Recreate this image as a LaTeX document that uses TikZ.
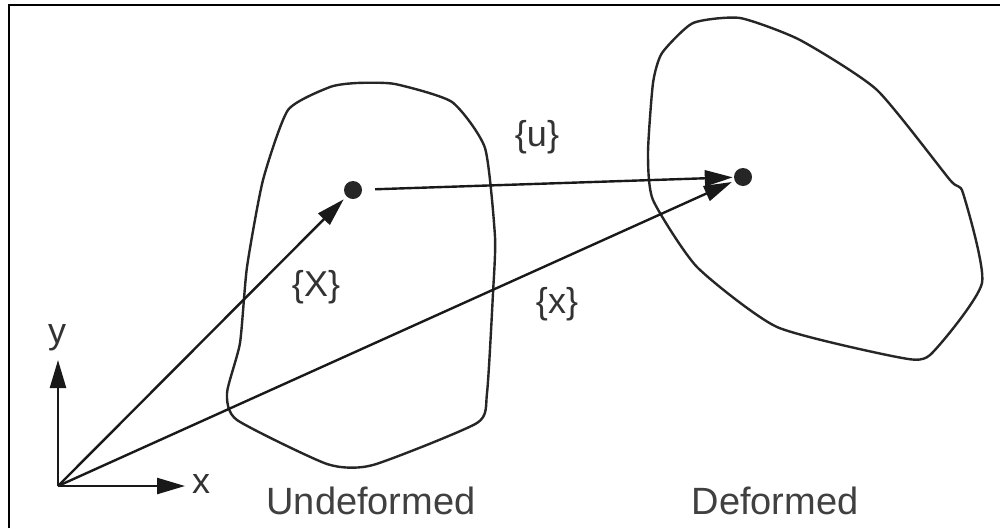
\documentclass[tikz,border=0pt]{standalone}
\usepackage{fontspec}
\setmainfont{Liberation Sans}
\usetikzlibrary{arrows.meta}
\begin{document}
\begin{tikzpicture}[x=1pt,y=-1pt,
  outline/.style={line width=2.4pt, line join=round, draw=black!85},
  vec/.style={line width=2.4pt, draw=black!90, -{Triangle[length=28pt,width=16pt]}},
  pt/.style={circle, fill=black!85, minimum size=18pt, inner sep=0pt},
  lbl/.style={font=\fontsize{36}{40}\selectfont, text=black!80, inner sep=0pt},
  captext/.style={font=\fontsize{38}{42}\selectfont, text=black!75, inner sep=0pt}]
\useasboundingbox (0,0) rectangle (1000,528);
\fill[white] (0,0) rectangle (1000,528);
% frame (left and top edges)
\draw[line width=2.5pt] (9,528) -- (9,5) -- (1000,5);
% undeformed body
\draw[outline] plot[smooth cycle, tension=0.35] coordinates {
  (288,110) (330,87) (357,83) (395,84) (452,102) (485,148) (495,237)
  (493,293) (487,393) (477,423) (373,465) (327,464) (237,420) (227,393)
  (240,343) (247,267) (263,180)};
% deformed body
\draw[outline] plot[smooth cycle, tension=0.35] coordinates {
  (693,23) (740,18) (800,40) (877,90) (950,180) (963,193) (982,283)
  (930,355) (897,357) (777,327) (697,267) (653,200) (648,153) (653,83)
  (662,53)};
% points
\coordinate (O) at (58,486);
\coordinate (xend) at (185,486);
\coordinate (yend) at (58,360);
\node[pt] (P) at (353,190) {};
\node[pt] (Q) at (743,177) {};
% axes
\draw[vec] (O) -- (xend);
\draw[vec] (O) -- (yend);
\node[lbl] (xl) at (201,484) {x};
\node[lbl] (yl) at (57,338) {y};
% vectors
\draw[vec, shorten >=4pt] (O) -- (P);
\draw[vec, shorten >=3pt] (O) -- (Q);
\draw[vec, shorten <=13pt, shorten >=1pt] (P) -- (Q);
% labels
\node[lbl] (ul) at (537,137) {\{u\}};
\node[lbl] (Xl) at (316,287) {\{X\}};
\node[lbl] (xxl) at (557,304) {\{x\}};
\node[captext] (und) at (371,501) {Undeformed};
\node[captext] (def) at (775,501) {Deformed};
\end{tikzpicture}
\end{document}
